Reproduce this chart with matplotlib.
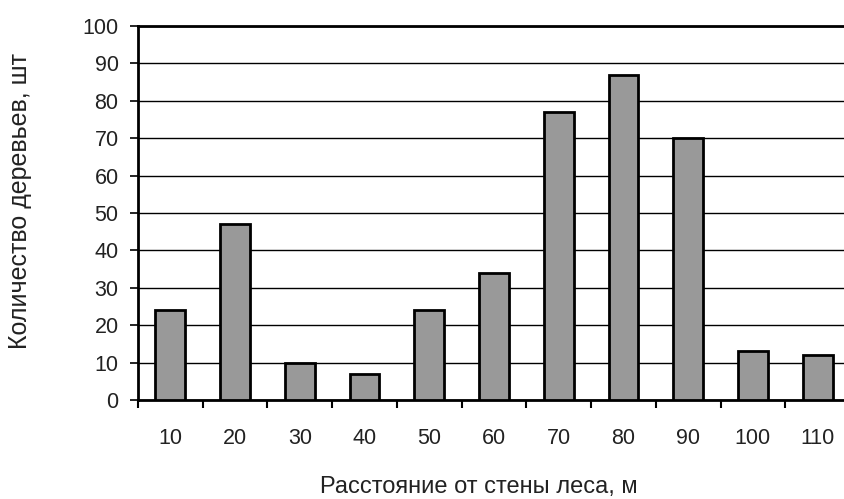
import matplotlib
matplotlib.use("Agg")
import matplotlib.pyplot as plt
import numpy as np

categories = ["10", "20", "30", "40", "50", "60", "70", "80", "90", "100", "110"]
counts = [24, 47, 10, 7, 24, 34, 77, 87, 70, 13, 12]
y_ticks = [0, 10, 20, 30, 40, 50, 60, 70, 80, 90, 100]

plt.rcParams['font.family'] = ['Liberation Sans', 'DejaVu Sans']

fig = plt.figure(figsize=(8.44, 4.99), dpi=100)
ax = fig.add_axes([138/844, 99/499, 712/844, 374/499])

x = np.arange(len(categories))
ax.bar(x, counts, width=0.46, color='#999999', edgecolor='black', linewidth=2, zorder=3)

ax.set_xlim(-0.5, len(categories) - 0.5)
ax.set_ylim(0, 100)
ax.set_yticks(y_ticks)
ax.set_yticklabels([str(v) for v in y_ticks], fontsize=15.5, color='#222222')
ax.yaxis.grid(True, color='black', linewidth=1, zorder=0)
ax.set_axisbelow(True)

ax.set_xticks(x)
ax.set_xticklabels(categories, fontsize=15.5, color='#222222')
ax.tick_params(axis='x', length=0, pad=20)
ax.set_xticks(np.arange(-0.5, len(categories), 1), minor=True)
ax.tick_params(axis='x', which='minor', length=6, width=1.5, direction='out', color='black')
ax.tick_params(axis='y', length=6, width=1.2, direction='out', pad=8)

for s in ['left', 'bottom', 'top']:
    ax.spines[s].set_linewidth(2)
    ax.spines[s].set_color('black')
ax.spines['right'].set_visible(False)

ax.set_xlabel("Расстояние от стены леса, м", fontsize=17, color='#222222')
ax.xaxis.set_label_coords(0.479, -0.233)
ax.xaxis.label.set_verticalalignment('center')
ax.set_ylabel("Количество деревьев, шт", fontsize=18, color='#222222')
ax.yaxis.set_label_coords(-0.166, 0.532)
ax.yaxis.label.set_verticalalignment('center')

fig.savefig("out.png", dpi=100)
